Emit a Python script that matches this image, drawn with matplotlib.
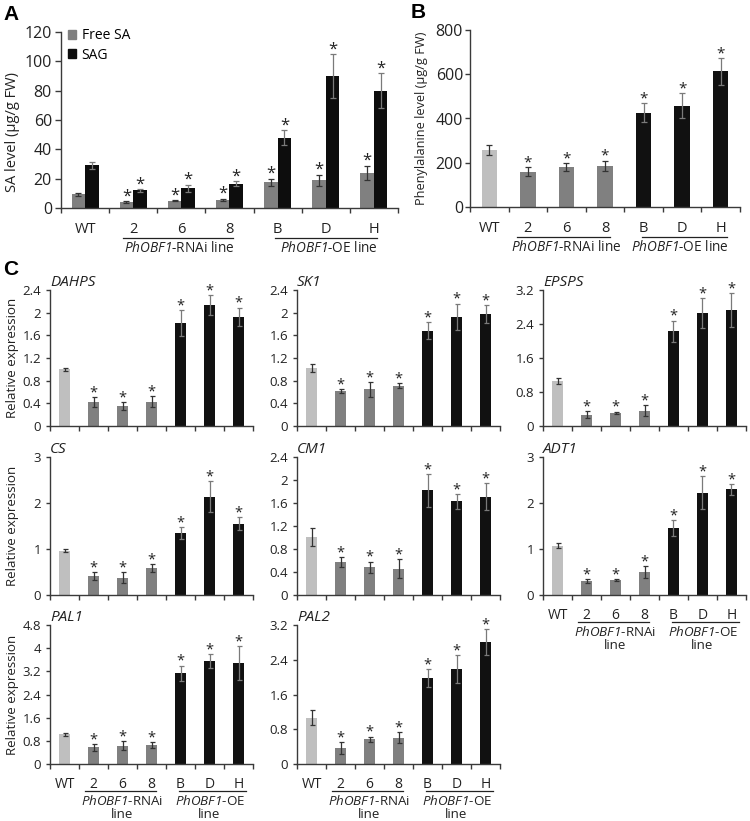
import matplotlib
matplotlib.use("Agg")
import matplotlib.pyplot as plt
import matplotlib.transforms as mtransforms
from matplotlib.lines import Line2D
from matplotlib.patches import Patch
from matplotlib.ticker import FuncFormatter
import numpy as np

plt.rcParams['font.family'] = ['Open Sans', 'DejaVu Sans']
plt.rcParams['mathtext.fontset'] = 'custom'
plt.rcParams['mathtext.it'] = 'Open Sans:italic'
plt.rcParams['mathtext.rm'] = 'Open Sans:italic'
plt.rcParams['mathtext.bf'] = 'Open Sans:bold:italic'

# ---------------- data ----------------
line_labels = ['WT', '2', '6', '8', 'B', 'D', 'H']
line_groups = ['WT', 'RNAi', 'RNAi', 'RNAi', 'OE', 'OE', 'OE']
significant = [False, True, True, True, True, True, True]

# Panel A: SA level (ug/g FW)
free_sa = [9.5, 4.0, 5.0, 5.5, 17.5, 19.0, 24.0]
free_sa_err = [1.0, 0.8, 0.5, 0.9, 2.5, 3.8, 4.8]
sag = [29.0, 12.0, 13.5, 16.5, 48.0, 90.0, 80.0]
sag_err = [2.5, 1.0, 2.3, 1.8, 5.2, 15.0, 12.0]

# Panel B: phenylalanine level (ug/g FW)
phe = [259, 159, 180, 186, 427, 457, 613]
phe_err = [22, 21, 19, 24, 42, 57, 60]

# Panel C: relative expression
dahps = [1.00, 0.42, 0.35, 0.43, 1.82, 2.13, 1.93]
dahps_err = [0.03, 0.09, 0.07, 0.10, 0.23, 0.18, 0.16]
sk1 = [1.02, 0.62, 0.65, 0.71, 1.68, 1.93, 1.98]
sk1_err = [0.07, 0.03, 0.13, 0.04, 0.15, 0.23, 0.16]
epsps = [1.06, 0.27, 0.31, 0.36, 2.23, 2.65, 2.73]
epsps_err = [0.07, 0.09, 0.03, 0.13, 0.25, 0.35, 0.40]
cs = [0.96, 0.41, 0.38, 0.59, 1.34, 2.14, 1.55]
cs_err = [0.03, 0.09, 0.12, 0.09, 0.13, 0.33, 0.14]
cm1 = [1.01, 0.57, 0.48, 0.46, 1.82, 1.63, 1.71]
cm1_err = [0.15, 0.09, 0.10, 0.16, 0.29, 0.13, 0.23]
adt1 = [1.07, 0.30, 0.32, 0.50, 1.45, 2.22, 2.30]
adt1_err = [0.05, 0.04, 0.02, 0.12, 0.17, 0.36, 0.12]
pal1 = [1.03, 0.57, 0.63, 0.65, 3.14, 3.56, 3.48]
pal1_err = [0.05, 0.13, 0.15, 0.10, 0.26, 0.24, 0.59]
pal2 = [1.07, 0.36, 0.57, 0.61, 1.98, 2.19, 2.81]
pal2_err = [0.18, 0.14, 0.06, 0.12, 0.21, 0.32, 0.30]

gene_names = ['DAHPS', 'SK1', 'EPSPS', 'CS', 'CM1', 'ADT1', 'PAL1', 'PAL2']
gene_values = [dahps, sk1, epsps, cs, cm1, adt1, pal1, pal2]
gene_errors = [dahps_err, sk1_err, epsps_err, cs_err, cm1_err, adt1_err, pal1_err, pal2_err]
gene_ymax = [2.4, 2.4, 3.2, 3, 2.4, 3, 4.8, 3.2]
gene_ystep = [0.4, 0.4, 0.8, 1, 0.4, 1, 0.8, 0.8]

# ---------------- styles ----------------
bar_colors = {'WT': '#bfbfbf', 'RNAi': '#808080', 'OE': '#111111'}
err_colors = {'WT': '#333333', 'RNAi': '#333333', 'OE': '#7a7a7a'}
axis_color = '#3a3a3a'
free_color = '#808080'
sag_color = '#0d0d0d'

W, H = 750, 821
fig = plt.figure(figsize=(W / 100, H / 100), dpi=100)


def rect(l, t, r, b):
    return [l / W, 1 - b / H, (r - l) / W, (b - t) / H]


def pt_offset(ax, dy_pt):
    return ax.get_xaxis_transform() + mtransforms.ScaledTranslation(
        0, -dy_pt / 72, fig.dpi_scale_trans)


def style_axes(ax, ymax, ystep, ytick_fs, ylen, ypad, xlen):
    n = len(line_labels)
    ax.spines[['top', 'right']].set_visible(False)
    for s in ['left', 'bottom']:
        ax.spines[s].set_color(axis_color)
        ax.spines[s].set_linewidth(1.0)
    ax.set_xlim(-0.5, n - 0.5)
    ax.set_ylim(0, ymax)
    ax.set_yticks(np.arange(0, ymax + ystep / 2, ystep))
    ax.yaxis.set_major_formatter(FuncFormatter(lambda v, p: f'{round(v, 3):g}'))
    ax.tick_params(axis='y', length=ylen, width=1, pad=ypad,
                   labelsize=ytick_fs, color=axis_color, labelcolor='#222222')
    ax.set_xticks(np.arange(n))
    ax.set_xticks(np.arange(n + 1) - 0.5, minor=True)
    ax.tick_params(axis='x', which='minor', length=xlen, width=1, color=axis_color)
    ax.tick_params(axis='x', which='major', length=0)


def x_labels(ax, fs, pad, line_dy, text_dys, group_fs, two_line,
             rnai_span, oe_span, rnai_c, oe_c):
    ax.set_xticks(np.arange(len(line_labels)))
    ax.set_xticklabels(line_labels, fontsize=fs, color='#222222')
    ax.tick_params(axis='x', which='major', length=0, pad=pad)
    tr = pt_offset(ax, line_dy)
    for (x0, x1) in (rnai_span, oe_span):
        ax.add_line(Line2D([x0, x1], [0, 0], transform=tr, color='#222222',
                           lw=0.9, clip_on=False))
    rn = r'$PhOBF1$-RNAi'
    oe = r'$PhOBF1$-OE'
    if two_line:
        texts = [(rnai_c, [rn, 'line']), (oe_c, [oe, 'line'])]
    else:
        texts = [(rnai_c, [rn + ' line']), (oe_c, [oe + ' line'])]
    for xc, parts in texts:
        for part, dy in zip(parts, text_dys):
            ax.text(xc, 0, part, transform=pt_offset(ax, dy), ha='center',
                    va='center', fontsize=group_fs, color='#222222')


def stars(ax, xs, tops, fs, off):
    for x, t, s in zip(xs, tops, significant):
        if s:
            ax.annotate('*', xy=(x, t), xytext=(0, off), textcoords='offset points',
                        ha='center', va='baseline', fontsize=fs, color='#222222')


def single_bars(ax, vals, errs, width, capsize, star_fs, star_off):
    x = np.arange(len(vals))
    cols = [bar_colors[g] for g in line_groups]
    ax.bar(x, vals, width=width, color=cols, zorder=2)
    for xi, v, e, g in zip(x, vals, errs, line_groups):
        ax.errorbar(xi, v, yerr=e, fmt='none', ecolor=err_colors[g],
                    elinewidth=0.9, capsize=capsize, capthick=0.9, zorder=3)
    stars(ax, x, np.array(vals) + np.array(errs), star_fs, star_off)


# ---------------- Panel A ----------------
axA = fig.add_axes(rect(61, 32, 398, 208))
style_axes(axA, 120, 20, 11.5, 4.5, 2, 3.5)
xa = np.arange(len(line_labels))
bw = 0.28
axA.bar(xa - bw / 2, free_sa, width=bw, color=free_color, zorder=2)
axA.bar(xa + bw / 2, sag, width=bw, color=sag_color, zorder=2)
axA.errorbar(xa - bw / 2, free_sa, yerr=free_sa_err, fmt='none', ecolor='#333333',
             elinewidth=0.9, capsize=2, capthick=0.9, zorder=3)
axA.errorbar(xa + bw / 2, sag, yerr=sag_err, fmt='none', ecolor='#7a7a7a',
             elinewidth=0.9, capsize=2, capthick=0.9, zorder=3)
stars(axA, xa - bw / 2, np.array(free_sa) + np.array(free_sa_err), 12, 0.5)
stars(axA, xa + bw / 2, np.array(sag) + np.array(sag_err), 12, 0.5)
x_labels(axA, 10.5, 10, 21.6, [28.8], 9.8, False,
         (0.79, 3.08), (3.94, 6.06), 1.95, 5.06)
axA.text(-0.145, 0.432, 'SA level (μg/g FW)', rotation=90, ha='center',
         va='center', fontsize=10.5, transform=axA.transAxes, color='#222222')
axA.legend(handles=[Patch(color=free_color, label='Free SA'),
                    Patch(color=sag_color, label='SAG')],
           loc='upper left', bbox_to_anchor=(0.02, 1.02), frameon=False,
           fontsize=10, handlelength=0.6, handleheight=0.6, handletextpad=0.4,
           labelspacing=0.3, borderpad=0, borderaxespad=0)

# ---------------- Panel B ----------------
axB = fig.add_axes(rect(470, 30, 740, 207))
style_axes(axB, 800, 200, 11.5, 3.5, 1.5, 3.5)
single_bars(axB, phe, phe_err, 0.4, 2, 11, 0.5)
x_labels(axB, 10.5, 10, 21.6, [28.8], 9.8, False,
         (0.72, 3.12), (3.96, 6.16), 2.0, 4.95)
axB.text(-0.178, 0.5, 'Phenylalanine level (μg/g FW)', rotation=90, ha='center',
         va='center', fontsize=9.2, transform=axB.transAxes, color='#222222')

# ---------------- Panel C ----------------
col_left = [50, 297, 543]
row_tb = [(290, 426), (457, 595), (625, 764)]
for i, name in enumerate(gene_names):
    r, c = divmod(i, 3)
    t, b = row_tb[r]
    ax = fig.add_axes(rect(col_left[c], t, col_left[c] + 203, b))
    style_axes(ax, gene_ymax[i], gene_ystep[i], 9.5, 3, 3.5, 3.5)
    single_bars(ax, gene_values[i], gene_errors[i], 0.4, 1.8, 10.5, 0.5)
    ax.text(0.0, 1.0, name, transform=ax.transAxes, ha='left', va='bottom',
            fontsize=11, style='italic', color='#222222')
    if r == 2 or name == 'ADT1':
        x_labels(ax, 10, 9, 19.4, [26.8, 36.0], 9.6, True,
                 (0.7, 3.15), (3.95, 6.25), 2.0, 5.0)
    else:
        ax.set_xticklabels([])
    if c == 0:
        ax.text(-0.187, 0.5, 'Relative expression', rotation=90, ha='center',
                va='center', fontsize=9.6, transform=ax.transAxes, color='#222222')

# panel letters
for lx, ly, lt in [(3, 5, 'A'), (411, 3, 'B'), (3, 260, 'C')]:
    fig.text(lx / W, 1 - ly / H, lt, ha='left', va='top', fontsize=15,
             fontweight='bold', family='Liberation Sans')

fig.savefig('out.png', dpi=100)
